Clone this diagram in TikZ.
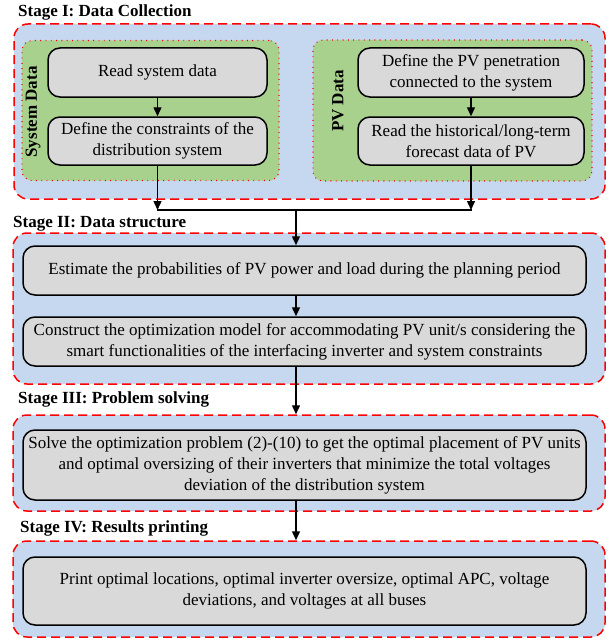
\documentclass[tikz,border=0pt]{standalone}
\usepackage{fontspec}
\setmainfont{Liberation Serif}
\usetikzlibrary{arrows.meta}
\definecolor{stageblue}{HTML}{C6D8EF}
\definecolor{groupgreen}{HTML}{A9D18E}
\definecolor{boxgray}{HTML}{D9D9D9}
\begin{document}
\begin{tikzpicture}[x=1pt,y=-1pt,
  every node/.style={font=\fontsize{17}{21}\selectfont},
  stagebox/.style={draw=red, line width=1.5pt, dash pattern=on 9pt off 5pt, fill=stageblue, rounded corners=14pt, inner sep=0pt},
  groupbox/.style={draw=red, line width=1.1pt, dash pattern=on 0.9pt off 4.4pt, fill=groupgreen, rounded corners=10pt, inner sep=0pt},
  procbox/.style={draw=black, line width=1.5pt, fill=boxgray, rounded corners=12pt, align=center, inner sep=0pt},
  stagetitle/.style={font=\fontsize{17}{21}\selectfont\bfseries, anchor=base west, inner sep=0pt},
  grouplabel/.style={font=\fontsize{17}{21}\selectfont\bfseries, rotate=90, inner sep=0pt},
  arr/.style={line width=1.4pt, -{Triangle[length=9pt,width=8pt]}},
  link/.style={line width=1.4pt}
]
\useasboundingbox (0,0) rectangle (615,642);

% Stage I
\node[stagetitle] (t1) at (18,17) {Stage I: Data Collection};
\node[stagebox, minimum width=591pt, minimum height=175pt] (s1) at (309.5,111.5) {};
\node[groupbox, minimum width=257pt, minimum height=140pt] (g1) at (150.5,110.5) {};
\node[groupbox, minimum width=279pt, minimum height=141pt] (g2) at (452.5,110.5) {};
\node[grouplabel] (l1) at (33,112) {System Data};
\node[grouplabel] (l2) at (338,101) {PV Data};
\node[procbox, minimum width=219pt, minimum height=49pt] (a1) at (157.5,72.5) {Read system data};
\node[procbox, minimum width=219pt, minimum height=48pt] (a2) at (157.5,141) {Define the constraints of the\\distribution system};
\node[procbox, minimum width=226pt, minimum height=49pt] (b1) at (471,72.5) {Define the PV penetration\\connected to the system};
\node[procbox, minimum width=226pt, minimum height=48pt] (b2) at (471,141) {Read the historical/long-term\\forecast data of PV};

% Stage II
\node[stagetitle] (t2) at (13,227) {Stage II: Data structure};
\node[stagebox, minimum width=592pt, minimum height=151pt] (s2) at (309,308.5) {};
\node[procbox, minimum width=563pt, minimum height=49pt] (c1) at (304.5,270.5) {Estimate the probabilities of PV power and load during the planning period};
\node[procbox, minimum width=563pt, minimum height=49pt] (c2) at (304.5,341.5) {Construct the optimization model for accommodating PV unit/s considering the\\smart functionalities of the interfacing inverter and system constraints};

% Stage III
\node[stagetitle] (t3) at (18,403) {Stage III: Problem solving};
\node[stagebox, minimum width=592pt, minimum height=96pt] (s3) at (309,463) {};
\node[procbox, minimum width=563pt, minimum height=70pt] (d1) at (304.5,465) {Solve the optimization problem (2)-(10) to get the optimal placement of PV units\\and optimal oversizing of their inverters that minimize the total voltages\\deviation of the distribution system};

% Stage IV
\node[stagetitle] (t4) at (20,532) {Stage IV: Results printing};
\node[stagebox, minimum width=592pt, minimum height=96pt] (s4) at (309,589) {};
\node[procbox, minimum width=563pt, minimum height=68pt] (e1) at (304.5,591) {Print optimal locations, optimal inverter oversize, optimal APC, voltage\\deviations, and voltages at all buses};

% connectors
\coordinate (jy) at (0,210);
\coordinate (cx) at (296,0);
\draw[arr] (a1) -- (a2);
\draw[arr] (b1) -- (b2);
\draw[arr] (a2.south) -- (a2.south |- jy);
\draw[arr] (b2.south) -- (b2.south |- jy);
\draw[link] ([xshift=-0.7pt]a2.south |- jy) -- ([xshift=0.7pt]b2.south |- jy);
\draw[arr] (cx |- jy) -- (c1.north -| cx);
\draw[arr] (c1.south -| cx) -- (c2.north -| cx);
\draw[arr] (c2.south -| cx) -- (s3.north -| cx);
\draw[arr] (d1.south -| cx) -- (s4.north -| cx);
\end{tikzpicture}
\end{document}
